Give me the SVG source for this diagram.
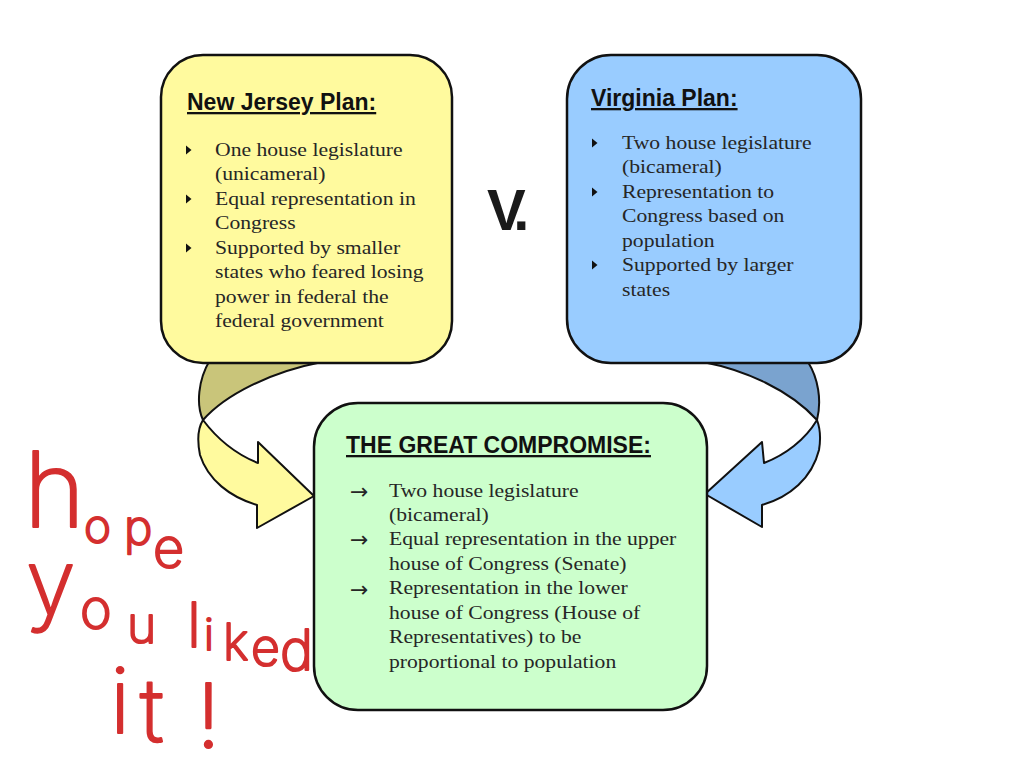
<svg xmlns="http://www.w3.org/2000/svg" width="1024" height="768" viewBox="0 0 1024 768">
<defs>
<style>
.box{stroke:#111;stroke-width:2.5}
.arrow{stroke:#111;stroke-width:2;stroke-linejoin:round}
.title{font-family:"Liberation Sans",Arial,sans-serif;font-weight:bold;font-size:23px;fill:#111;text-decoration:underline}
.body{font-family:"Liberation Serif","Times New Roman",serif;font-size:19px;fill:#262626}
.ar{font-family:"DejaVu Sans",sans-serif;font-size:22px;fill:#262626}
.hw{font-family:Inter,"Liberation Sans",Arial,sans-serif;font-weight:200;fill:#d42f2f;stroke:#d42f2f;stroke-width:2.2;stroke-linejoin:round}
</style>
<path id="bul" d="M0,-4.5 L5.5,0 L0,4.5 Z" fill="#111"/>
</defs>
<rect width="1024" height="768" fill="#fff"/>

<g id="connectors">
<g id="arrow-nj">
<path class="arrow" d="M210,360 C198,380 196,405 203,420 C225,395 270,372 322,362 Z" fill="#C9C57A"/>
<path class="arrow" d="M203,420 C218,440 238,455 258,463 L258,442 L314,496 L257,528 L257,505 C230,497 208,480 200,455 C197,440 198,428 203,420 Z" fill="#FFFA9E"/>
</g>
<g id="arrow-va">
<path class="arrow" d="M703,362 C745,370 790,390 817,420 C822,400 818,378 808,362 Z" fill="#7AA3CF"/>
<path class="arrow" d="M817,420 C805,440 785,455 764,463 L762,442 L705,494 L762,527 L762,505 C790,497 812,478 819,450 C821,438 820,428 817,420 Z" fill="#99CCFF"/>
</g>
</g>

<g id="nj-plan">
<rect class="box" x="161" y="55" width="291" height="308" rx="42" fill="#FFFA9E"/>
<text class="title" x="187" y="110">New Jersey Plan:</text>
<use href="#bul" x="186" y="150"/>
<use href="#bul" x="186" y="199"/>
<use href="#bul" x="186" y="248"/>
<g transform="translate(215,0) scale(1.14,1)">
<text class="body" x="0" y="156">One house legislature</text>
<text class="body" x="0" y="180.5">(unicameral)</text>
<text class="body" x="0" y="205">Equal representation in</text>
<text class="body" x="0" y="229.5">Congress</text>
<text class="body" x="0" y="254">Supported by smaller</text>
<text class="body" x="0" y="278.5">states who feared losing</text>
<text class="body" x="0" y="303">power in federal the</text>
<text class="body" x="0" y="327.5">federal government</text>
</g>
</g>

<g id="versus">
<text x="487" y="230" font-family="Liberation Sans,Arial,sans-serif" font-weight="bold" font-size="58" letter-spacing="-7" fill="#1a1a1a">V.</text>
</g>

<g id="virginia-plan">
<rect class="box" x="567" y="55" width="294" height="308" rx="44" fill="#99CCFF"/>
<text class="title" x="591" y="106">Virginia Plan:</text>
<use href="#bul" x="592" y="143"/>
<use href="#bul" x="592" y="192"/>
<use href="#bul" x="592" y="265"/>
<g transform="translate(622,0) scale(1.14,1)">
<text class="body" x="0" y="149">Two house legislature</text>
<text class="body" x="0" y="173.5">(bicameral)</text>
<text class="body" x="0" y="198">Representation to</text>
<text class="body" x="0" y="222.5">Congress based on</text>
<text class="body" x="0" y="247">population</text>
<text class="body" x="0" y="271.5">Supported by larger</text>
<text class="body" x="0" y="296">states</text>
</g>
</g>

<g id="great-compromise">
<rect class="box" x="314" y="403" width="393" height="307" rx="44" fill="#CCFFCC"/>
<text class="title" x="346" y="453">THE GREAT COMPROMISE:</text>
<text class="ar" x="350" y="499">→</text>
<text class="ar" x="350" y="547">→</text>
<text class="ar" x="350" y="597">→</text>
<g transform="translate(389,0) scale(1.14,1)">
<text class="body" x="0" y="497">Two house legislature</text>
<text class="body" x="0" y="521">(bicameral)</text>
<text class="body" x="0" y="545.5">Equal representation in the upper</text>
<text class="body" x="0" y="570">house of Congress (Senate)</text>
<text class="body" x="0" y="594.5">Representation in the lower</text>
<text class="body" x="0" y="619">house of Congress (House of</text>
<text class="body" x="0" y="643.5">Representatives) to be</text>
<text class="body" x="0" y="668">proportional to population</text>
</g>
</g>

<g id="handwriting">
<text class="hw"><tspan x="24" y="527" font-size="104">h</tspan><tspan x="84" y="542" font-size="46">o</tspan><tspan x="124" y="544" font-size="48">p</tspan><tspan x="153" y="567" font-size="54">e</tspan><tspan x="26" y="614" font-size="90">y</tspan><tspan x="80" y="628" font-size="54">o</tspan><tspan x="127" y="643" font-size="50">u</tspan><tspan x="187" y="647" font-size="62">l</tspan><tspan x="204" y="650" font-size="44">i</tspan><tspan x="223" y="660" font-size="50">k</tspan><tspan x="251" y="665" font-size="50">e</tspan><tspan x="280" y="670" font-size="56">d</tspan><tspan x="110" y="733" font-size="90">i</tspan><tspan x="140" y="742" font-size="88">t</tspan><tspan x="196" y="748" font-size="90">!</tspan></text>
</g>
</svg>
